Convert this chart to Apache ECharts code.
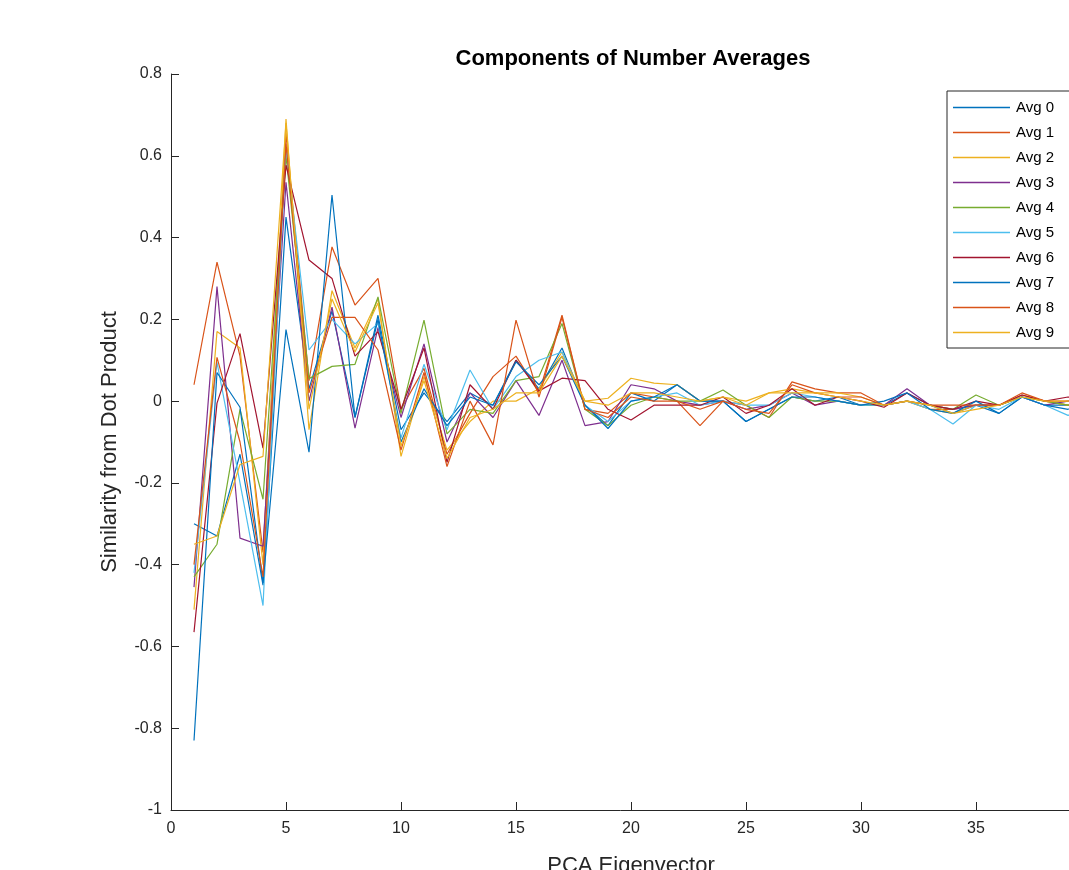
<!DOCTYPE html>
<html>
<head>
<meta charset="utf-8">
<script src="https://cdn.jsdelivr.net/npm/echarts@6/dist/echarts.min.js"></script>
<style>
html, body { margin: 0; padding: 0; background: #fff; }
#chart { width: 1069px; height: 870px; }
</style>
</head>
<body>
<div id="chart"></div>
<script>
// eigenvector index 1..40
var xs = [];
for (var i = 1; i <= 40; i++) xs.push(i);

var names = ['Avg 0', 'Avg 1', 'Avg 2', 'Avg 3', 'Avg 4', 'Avg 5', 'Avg 6', 'Avg 7', 'Avg 8', 'Avg 9'];
var colors = ['#0072BD', '#D95319', '#EDB120', '#7E2F8E', '#77AC30', '#4DBEEE', '#A2142F', '#0072BD', '#D95319', '#EDB120'];

var avg0 = [-0.30, -0.33, -0.13, -0.45, 0.45, 0.03, 0.22, -0.04, 0.21, -0.07, 0.02, -0.05, 0.02, -0.01, 0.10, 0.03, 0.13, -0.01, -0.06, 0.02, 0.00, 0.04, 0.00, 0.00, -0.05, -0.02, 0.01, 0.00, 0.01, -0.01, -0.01, 0.02, -0.01, -0.03, -0.01, -0.03, 0.01, -0.01, -0.01, 0.00];
var avg1 = [0.04, 0.34, 0.11, -0.37, 0.655, 0.05, 0.377, 0.235, 0.30, -0.02, 0.08, -0.13, -0.03, 0.06, 0.11, 0.02, 0.21, -0.02, -0.03, 0.02, 0.01, 0.00, -0.06, 0.00, -0.01, -0.04, 0.047, 0.03, 0.02, 0.02, -0.01, 0.00, -0.02, -0.02, -0.01, -0.01, 0.015, 0.00, -0.01, 0.00];
var avg2 = [-0.51, 0.17, 0.13, -0.40, 0.69, -0.07, 0.27, 0.13, 0.25, -0.135, 0.06, -0.12, -0.05, 0.00, 0.00, 0.03, 0.12, 0.00, 0.007, 0.056, 0.044, 0.04, 0.00, 0.01, 0.00, 0.02, 0.03, 0.02, 0.02, 0.01, -0.01, 0.00, -0.02, -0.03, -0.01, -0.01, 0.01, 0.00, -0.01, 0.00];
var avg3 = [-0.455, 0.28, -0.335, -0.355, 0.535, 0.00, 0.23, -0.066, 0.18, -0.04, 0.14, -0.10, 0.02, -0.04, 0.05, -0.035, 0.10, -0.06, -0.05, 0.04, 0.03, 0.00, -0.01, 0.00, -0.02, -0.01, 0.02, -0.01, 0.00, -0.01, -0.01, 0.03, -0.01, -0.02, -0.01, -0.01, 0.01, -0.01, 0.00, 0.00];
var avg4 = [-0.43, -0.35, -0.02, -0.24, 0.60, 0.055, 0.085, 0.09, 0.255, -0.03, 0.198, -0.08, -0.02, -0.03, 0.05, 0.06, 0.19, -0.02, -0.06, -0.01, 0.01, 0.00, 0.00, 0.027, -0.01, -0.04, 0.01, 0.00, 0.00, -0.01, -0.01, 0.00, -0.01, -0.02, 0.015, -0.01, 0.01, 0.00, -0.01, 0.00];
var avg5 = [-0.42, 0.095, -0.20, -0.50, 0.62, 0.125, 0.20, 0.14, 0.19, -0.09, 0.09, -0.07, 0.076, -0.02, 0.06, 0.10, 0.12, -0.01, -0.05, 0.00, 0.01, 0.02, -0.01, 0.00, -0.01, -0.01, 0.02, 0.01, 0.00, -0.01, -0.01, 0.00, -0.02, -0.056, -0.01, -0.02, 0.01, -0.01, -0.035, -0.01];
var avg6 = [-0.565, -0.005, 0.165, -0.115, 0.577, 0.345, 0.30, 0.11, 0.17, -0.02, 0.13, -0.15, 0.04, -0.02, 0.10, 0.025, 0.056, 0.05, -0.02, -0.046, -0.01, -0.01, -0.01, 0.01, -0.03, -0.01, 0.03, -0.01, 0.01, 0.00, -0.015, 0.02, -0.01, -0.02, 0.00, -0.01, 0.015, 0.00, 0.01, 0.00];
var avg7 = [-0.83, 0.07, -0.015, -0.445, 0.175, -0.125, 0.504, -0.04, 0.20, -0.10, 0.03, -0.06, 0.01, -0.01, 0.096, 0.04, 0.11, -0.01, -0.067, 0.00, 0.01, 0.04, 0.00, 0.00, -0.05, -0.02, 0.01, 0.01, 0.00, -0.01, 0.00, 0.02, -0.02, -0.03, 0.00, -0.03, 0.01, -0.01, -0.02, 0.00];
var avg8 = [-0.40, 0.107, -0.10, -0.43, 0.63, 0.02, 0.205, 0.205, 0.125, -0.12, 0.07, -0.16, 0.00, -0.107, 0.198, 0.01, 0.205, -0.02, -0.04, 0.01, 0.00, 0.00, -0.02, 0.00, -0.02, -0.03, 0.04, 0.02, 0.01, 0.01, -0.01, 0.00, -0.01, -0.01, -0.01, -0.01, 0.02, 0.00, 0.00, 0.00];
var avg9 = [-0.35, -0.33, -0.155, -0.135, 0.68, -0.02, 0.25, 0.12, 0.24, -0.11, 0.05, -0.14, -0.04, -0.02, 0.02, 0.02, 0.11, 0.00, -0.01, 0.02, 0.02, 0.01, 0.00, 0.01, -0.01, 0.02, 0.02, 0.02, 0.01, 0.00, -0.01, 0.00, -0.01, -0.03, -0.02, -0.01, 0.01, 0.00, 0.00, 0.00];

var allAvgs = [avg0, avg1, avg2, avg3, avg4, avg5, avg6, avg7, avg8, avg9];

var seriesList = [];
for (var k = 0; k < allAvgs.length; k++) {
  var pts = [];
  for (var j = 0; j < xs.length; j++) pts.push([xs[j], allAvgs[k][j]]);
  seriesList.push({
    name: names[k],
    type: 'line',
    data: pts,
    symbol: 'none',
    lineStyle: { width: 1.2, color: colors[k] },
    itemStyle: { color: colors[k] },
    animation: false
  });
}

var myChart = echarts.init(document.getElementById('chart'));
var axisCol = '#262626';
var option = {
  backgroundColor: '#fff',
  textStyle: { fontFamily: 'Liberation Sans, Arial, sans-serif' },
  title: {
    text: 'Components of Number Averages',
    left: 628, top: 43, textAlign: 'center',
    textStyle: { fontSize: 22, fontWeight: 'bold', color: '#000', fontFamily: 'Liberation Sans, Arial, sans-serif' }
  },
  legend: {
    orient: 'vertical',
    left: 947, top: 91,
    data: names,
    icon: 'path://M0,0H57V1.3H0Z',
    itemWidth: 57, itemHeight: 14, itemGap: 10,
    padding: [9, 20, 8, 6],
    borderColor: axisCol, borderWidth: 1,
    backgroundColor: '#fff',
    textStyle: { fontSize: 15, color: '#000', padding: [0, 0, 0, 1] }
  },
  // the axes run on past the right edge of the window (x = 40 sits off-screen)
  grid: { left: 171, top: 74, width: 920, height: 736, containLabel: false, outerBoundsMode: 'none' },
  xAxis: {
    type: 'value', min: 0, max: 40, interval: 5,
    name: 'PCA Eigenvector', nameLocation: 'middle', nameGap: 45,
    nameTextStyle: { fontSize: 22, color: axisCol },
    axisLine: { onZero: false, lineStyle: { color: axisCol } },
    axisTick: { inside: true, length: 8, lineStyle: { color: axisCol } },
    axisLabel: { fontSize: 16, color: axisCol, margin: 11 },
    splitLine: { show: false }
  },
  yAxis: {
    type: 'value', min: -1, max: 0.8, interval: 0.2,
    name: 'Similarity from Dot Product', nameLocation: 'middle', nameGap: 50,
    nameTextStyle: { fontSize: 22, color: axisCol },
    axisLine: { show: true, onZero: false, lineStyle: { color: axisCol } },
    axisTick: { show: true, inside: true, length: 8, lineStyle: { color: axisCol } },
    axisLabel: {
      fontSize: 16, color: axisCol, margin: 9,
      formatter: function (v) { return String(Math.round(v * 10) / 10); }
    },
    splitLine: { show: false }
  },
  series: seriesList
};
myChart.setOption(option);
</script>
</body>
</html>
